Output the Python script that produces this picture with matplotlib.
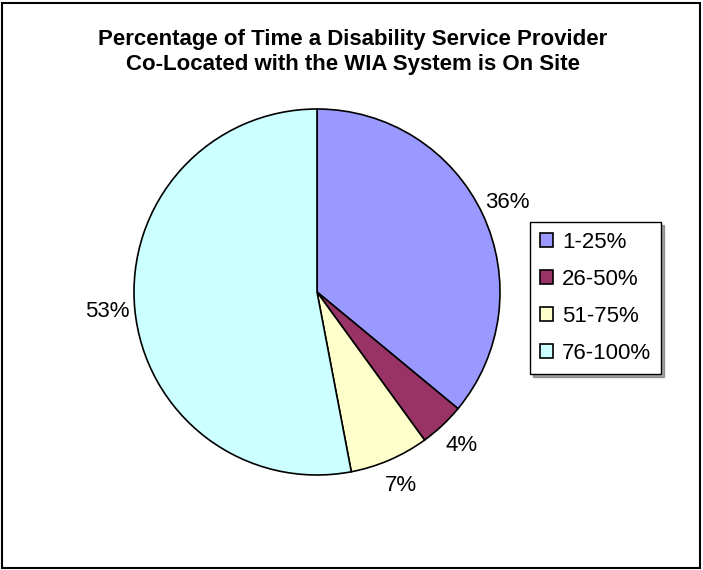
import matplotlib
matplotlib.use("Agg")
import matplotlib.pyplot as plt
from matplotlib.patches import Rectangle

plt.rcParams['font.family'] = ['Liberation Sans', 'DejaVu Sans']

categories = ['1-25%', '26-50%', '51-75%', '76-100%']
shares = [36, 4, 7, 53]
colors = ['#9999FF', '#993366', '#FFFFCC', '#CCFFFF']
title = 'Percentage of Time a Disability Service Provider\nCo-Located with the WIA System is On Site'

W, H = 703, 570
fig = plt.figure(figsize=(W / 100, H / 100), dpi=100)

# outer chart frame
fig.patches.append(Rectangle((2 / W, 2 / H), 698 / W, 565 / H, transform=fig.transFigure,
                             fill=False, edgecolor='black', linewidth=1.5))

fig.text(353 / W, 1 - 52 / H, title, ha='center', va='center', fontsize=16,
         fontweight='bold', linespacing=1.3)

# pie centred at (317, 292) px, radius ~183 px
cx, cy, r = 317, 292, 183
ax = fig.add_axes([(cx - r) / W, (H - cy - r) / H, 2 * r / W, 2 * r / H])
wedges, texts, autotexts = ax.pie(
    shares, colors=colors, startangle=90, counterclock=False,
    autopct='%1.0f%%', pctdistance=1.15,
    wedgeprops=dict(edgecolor='black', linewidth=1.2),
    textprops=dict(fontsize=16))
ax.set_xlim(-1, 1)
ax.set_ylim(-1, 1)
ax.set_aspect('equal')
for t in autotexts:
    t.set_clip_on(False)

leg = fig.legend(wedges, categories, loc='upper left',
                 bbox_to_anchor=(530 / W, 1 - 222 / H), fontsize=16,
                 frameon=True, fancybox=False, shadow=True, edgecolor='black',
                 handlelength=0.6, handleheight=0.6, handletextpad=0.4,
                 labelspacing=0.72, borderpad=0.45, borderaxespad=0)
leg.get_frame().set_linewidth(1.0)

fig.savefig('out.png', dpi=100)
